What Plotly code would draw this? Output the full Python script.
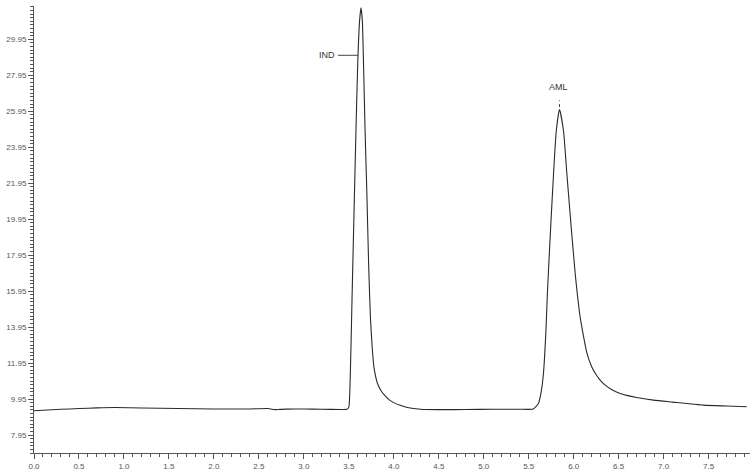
import plotly.graph_objects as go

# Retention time (min) and detector response
time_min = [0.00, 0.10, 0.30, 0.50, 0.70, 0.90, 1.20, 1.60, 2.00, 2.40, 2.60, 2.68, 2.72, 2.80, 3.00, 3.20, 3.40, 3.48,
            3.50, 3.51, 3.52, 3.53, 3.54, 3.56, 3.58, 3.60, 3.62, 3.635, 3.65, 3.66, 3.68, 3.70, 3.72, 3.74, 3.76,
            3.78, 3.82, 3.86, 3.90, 3.95, 4.00, 4.07, 4.15, 4.30, 4.50, 4.80, 5.10, 5.40, 5.55, 5.61,
            5.64, 5.664, 5.69, 5.709, 5.746, 5.776, 5.806, 5.842, 5.887, 5.924, 5.969, 6.017, 6.072, 6.147,
            6.20, 6.25, 6.294, 6.35, 6.43, 6.517, 6.60, 6.70, 6.887, 7.10, 7.442, 7.70, 7.924]
response = [9.30, 9.33, 9.38, 9.42, 9.46, 9.48, 9.45, 9.42, 9.40, 9.40, 9.42, 9.36, 9.37, 9.39, 9.40, 9.38, 9.37, 9.38,
            9.50, 10.2, 12.0, 14.2, 16.5, 20.8, 25.0, 28.8, 31.0, 31.7, 31.0, 29.3, 25.0, 21.5, 17.5, 14.5, 12.8,
            11.7, 10.8, 10.4, 10.15, 9.90, 9.75, 9.60, 9.48, 9.38, 9.36, 9.37, 9.38, 9.38, 9.40, 9.72,
            10.4, 11.4, 13.6, 15.98, 19.7, 22.47, 24.85, 26.05, 24.85, 22.47, 19.7, 16.9, 14.5, 12.5,
            11.75, 11.3, 11.0, 10.72, 10.45, 10.26, 10.14, 10.04, 9.89, 9.78, 9.61, 9.56, 9.52]

# Peak labels
peak_names = ["IND", "AML"]
peak_times = [3.605, 5.842]
peak_label_y = [29.06, 26.9]

x_major = [i * 0.5 for i in range(16)]
y_major = [7.95 + 2 * i for i in range(12)]

axis_col = "#555555"
font = dict(family="Liberation Sans, Arial, sans-serif", size=8, color="#555555")

fig = go.Figure()
fig.add_trace(go.Scatter(x=time_min, y=response, mode="lines",
                         line=dict(color="#2a2a2a", width=1.1, shape="spline", smoothing=0.5),
                         hoverinfo="skip", showlegend=False))

# IND label with horizontal leader line
fig.add_shape(type="line", xref="x", yref="y", x0=peak_times[0] - 0.225, x1=peak_times[0],
              y0=peak_label_y[0], y1=peak_label_y[0], line=dict(color="#444444", width=1))
fig.add_annotation(x=peak_times[0] - 0.235, y=peak_label_y[0], text=peak_names[0], showarrow=False,
                   xanchor="right", yanchor="middle",
                   font=dict(family="Liberation Sans, Arial, sans-serif", size=9, color="#333333"))
# AML label with small dashed tick
fig.add_shape(type="line", xref="x", yref="y", x0=peak_times[1], x1=peak_times[1],
              y0=26.18, y1=26.56, line=dict(color="#444444", width=1, dash="dot"))
fig.add_annotation(x=peak_times[1] - 0.01, y=peak_label_y[1], text=peak_names[1], showarrow=False,
                   xanchor="center", yanchor="bottom",
                   font=dict(family="Liberation Sans, Arial, sans-serif", size=9, color="#333333"))

fig.update_layout(
    width=754, height=474,
    margin=dict(l=34, r=4, t=6, b=21),
    paper_bgcolor="white", plot_bgcolor="white",
    font=font,
    xaxis=dict(range=[0, 7.96], tickvals=x_major, tickformat=".1f", ticks="outside", ticklen=5,
               tickcolor=axis_col, showline=True, linecolor=axis_col, linewidth=1, showgrid=False,
               zeroline=False, tickfont=font,
               minor=dict(dtick=0.1, tick0=0, ticks="outside", ticklen=3, tickcolor=axis_col, showgrid=False)),
    yaxis=dict(range=[6.95, 31.8], tickvals=y_major, tickformat=".2f", ticks="outside", ticklen=5,
               tickcolor=axis_col, showline=True, linecolor=axis_col, linewidth=1, showgrid=False,
               zeroline=False, tickfont=font,
               minor=dict(dtick=0.2, tick0=7.95, ticks="outside", ticklen=3, tickcolor=axis_col, showgrid=False)),
)

fig.write_html("out.html", config={"displayModeBar": False},
               post_script="document.body.style.margin='0';document.body.style.overflow='hidden';")
